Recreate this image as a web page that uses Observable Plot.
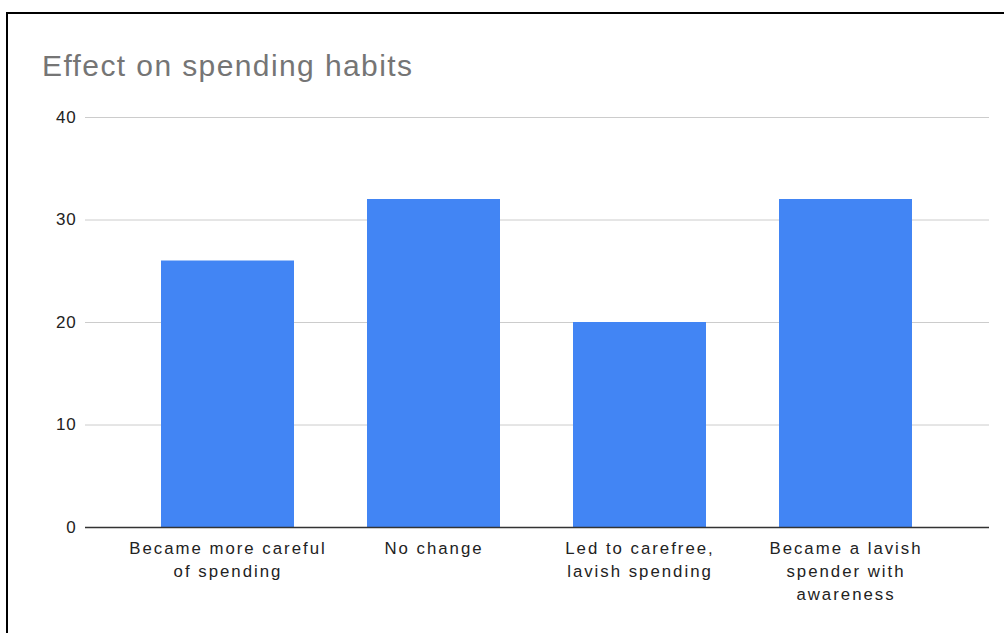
<!DOCTYPE html>
<html>
<head>
<meta charset="utf-8">
<script src="https://cdn.jsdelivr.net/npm/d3@7"></script>
<script src="https://cdn.jsdelivr.net/npm/@observablehq/plot@0.6"></script>
<style>
  html, body { margin: 0; padding: 0; background: #fff; }
  body { width: 1004px; height: 633px; position: relative; overflow: hidden; font-family: "Liberation Sans", Arial, sans-serif; }
  #frame { position: absolute; left: 6px; top: 12px; width: 1100px; height: 700px; border-top: 2px solid #000; border-left: 2px solid #000; }
  #title { position: absolute; left: 42px; top: 49px; font-size: 30px; letter-spacing: 1.4px; color: #757575; font-family: "Liberation Sans", Arial, sans-serif; white-space: nowrap; }
  #chart { position: absolute; left: 0; top: 0; }
  g[aria-label="x-axis tick label"] text { letter-spacing: 2px; }
  g[aria-label="y-axis tick label"] text { letter-spacing: 0.8px; }
</style>
</head>
<body>
<div id="frame"></div>
<div id="title">Effect on spending habits</div>
<div id="chart"></div>
<script>
const categories = [
  "Became more careful\nof spending",
  "No change",
  "Led to carefree,\nlavish spending",
  "Became a lavish\nspender with\nawareness"
];
const values = [26, 32, 20, 32];
const yTicks = [0, 10, 20, 30, 40];

const data = categories.map((c, i) => ({category: c, value: values[i]}));

const chart = Plot.plot({
  width: 1004,
  height: 633,
  marginLeft: 85,
  marginRight: 15,
  marginTop: 117,
  marginBottom: 106,
  style: {fontFamily: "'Liberation Sans', Arial, sans-serif", fontSize: "16px", color: "#222", background: "transparent"},
  x: {domain: categories, paddingInner: 0.352, paddingOuter: 0.362, label: null},
  y: {domain: [0, 40], label: null},
  marks: [
    Plot.gridY(yTicks, {stroke: "#cccccc", strokeOpacity: 1, strokeWidth: 1}),
    Plot.barY(data, {x: "category", y: "value", fill: "#4285F4"}),
    Plot.ruleY([0], {stroke: "#333", strokeWidth: 1.3}),
    Plot.axisY(yTicks, {tickSize: 0, tickPadding: 9, fontSize: 17, fill: "#222", label: null}),
    Plot.axisX({tickSize: 0, tickPadding: 10, fontSize: 16.8, fill: "#222", lineHeight: 1.38, label: null})
  ]
});
document.getElementById("chart").appendChild(chart);
</script>
</body>
</html>
